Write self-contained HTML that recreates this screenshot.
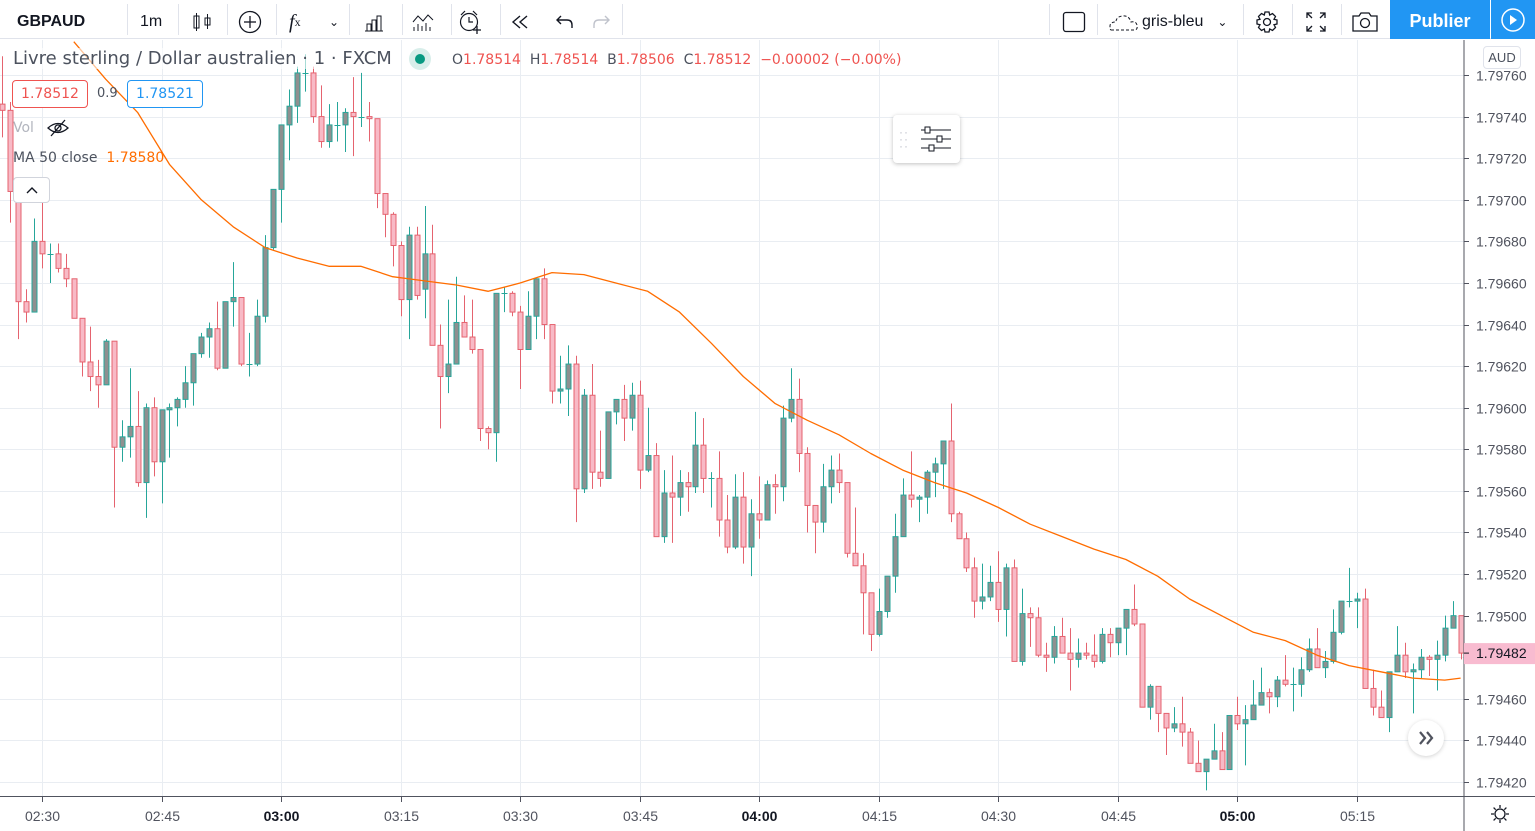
<!DOCTYPE html>
<html><head><meta charset="utf-8">
<style>
*{margin:0;padding:0;box-sizing:border-box}
body{width:1535px;height:831px;overflow:hidden;background:#fff;font-family:"Liberation Sans",sans-serif;position:relative;color:#131722}
.tb{position:absolute;top:0;left:0;width:1535px;height:39px;border-bottom:1px solid #e0e3eb;background:#fff}
.sep{position:absolute;top:4px;width:1px;height:31px;background:#e0e3eb}
.ti{position:absolute;top:3px;height:38px;display:flex;align-items:center;justify-content:center;font-size:16px;color:#131722}
.dv{font-family:"DejaVu Sans","Liberation Sans",sans-serif}
</style></head><body>
<div class="tb">
  <div class="ti" style="left:17px;font-size:16px;font-weight:bold">GBPAUD</div>
  <div class="sep" style="left:127px"></div>
  <div class="ti" style="left:140px;font-size:16px">1m</div>
  <div class="sep" style="left:178px"></div>
  <div class="ti" style="left:190px;width:24px"><svg width="22" height="22"><rect x="3" y="5" width="5" height="12" fill="none" stroke="#131722"/><line x1="5.5" y1="2" x2="5.5" y2="20" stroke="#131722"/><rect x="14" y="7" width="5" height="7" fill="none" stroke="#131722"/><line x1="16.5" y1="3" x2="16.5" y2="18" stroke="#131722"/></svg></div>
  <div class="sep" style="left:227px"></div>
  <div class="ti" style="left:238px;width:24px"><svg width="24" height="24"><circle cx="12" cy="12" r="10.5" fill="none" stroke="#131722" stroke-width="1.3"/><line x1="12" y1="6" x2="12" y2="18" stroke="#131722" stroke-width="1.3"/><line x1="6" y1="12" x2="18" y2="12" stroke="#131722" stroke-width="1.3"/></svg></div>
  <div class="sep" style="left:276px"></div>
  <div class="ti" style="left:289px;font-style:italic;font-family:'Liberation Serif',serif;font-size:20px">f<span style="font-size:12px;font-style:normal">x</span></div>
  <div class="ti" style="left:329px;font-size:12px">⌄</div>
  <div class="sep" style="left:349px"></div>
  <div class="ti" style="left:362px;width:24px"><svg width="22" height="20"><path d="M2 19H20M4 19V12H8V19M9 19V8H13V19M14 19V4H18V19" fill="none" stroke="#131722"/></svg></div>
  <div class="sep" style="left:402px"></div>
  <div class="ti" style="left:410px;width:26px"><svg width="24" height="20"><path d="M2 10L7 4L12 9L17 3L22 8" fill="none" stroke="#131722"/><path d="M3 19V15M7 19V12M11 19V14M15 19V11M19 19V15" stroke="#131722"/></svg></div>
  <div class="sep" style="left:451px"></div>
  <div class="ti" style="left:457px;width:26px"><svg width="26" height="26"><circle cx="12" cy="13" r="8.5" fill="none" stroke="#131722" stroke-width="1.2"/><path d="M12 8V13H16M4 6L8 2M20 6L16 2" fill="none" stroke="#131722" stroke-width="1.2"/><path d="M20 17V25M16 21H24" stroke="#131722" stroke-width="1.3"/></svg></div>
  <div class="sep" style="left:500px"></div>
  <div class="ti" style="left:509px;width:22px"><svg width="20" height="16"><path d="M10 2L3 8L10 14M17 2L10 8L17 14" fill="none" stroke="#131722" stroke-width="1.4"/></svg></div>
  <div class="ti" style="left:555px;width:20px"><svg width="20" height="16"><path d="M6 2L2 6L6 10M2 6H12Q17 6 17 11V14" fill="none" stroke="#131722" stroke-width="1.4"/></svg></div>
  <div class="ti" style="left:591px;width:20px"><svg width="20" height="16"><path d="M14 2L18 6L14 10M18 6H8Q3 6 3 11V14" fill="none" stroke="#c0c3cc" stroke-width="1.4"/></svg></div>
  <div class="sep" style="left:622px"></div>
  <div class="sep" style="left:1049px"></div>
  <div class="ti" style="left:1062px;width:24px"><svg width="24" height="22"><rect x="1.5" y="1.5" width="21" height="19" rx="2.5" fill="none" stroke="#131722" stroke-width="1.3"/></svg></div>
  <div class="sep" style="left:1097px"></div>
  <div class="ti" style="left:1107px;font-size:16px"><svg width="32" height="20" style="margin-right:3px"><path d="M4 18H27Q31 18 30 13Q29 9 24 10Q22 3 15 4Q9 5 9 10Q3 10 3 14Q3 18 4 18" fill="none" stroke="#131722" stroke-dasharray="3 2"/></svg>gris-bleu<span style="margin-left:14px;font-size:12px">⌄</span></div>
  <div class="sep" style="left:1243px"></div>
  <div class="ti" style="left:1255px;width:24px"><svg width="24" height="24"><circle cx="12" cy="12" r="3.5" fill="none" stroke="#131722" stroke-width="1.3"/><path d="M10 2H14L14.7 5L17.5 3.5L20.5 6.5L19 9.3L22 10V14L19 14.7L20.5 17.5L17.5 20.5L14.7 19L14 22H10L9.3 19L6.5 20.5L3.5 17.5L5 14.7L2 14V10L5 9.3L3.5 6.5L6.5 3.5L9.3 5Z" fill="none" stroke="#131722" stroke-width="1.3"/></svg></div>
  <div class="sep" style="left:1292px"></div>
  <div class="ti" style="left:1304px;width:24px"><svg width="22" height="22"><path d="M2 7V2H7M15 2H20V7M20 15V20H15M7 20H2V15M2 2L7 7M20 2L15 7M20 20L15 15M2 20L7 15" fill="none" stroke="#131722" stroke-width="1.3"/></svg></div>
  <div class="sep" style="left:1341px"></div>
  <div class="ti" style="left:1351px;width:28px"><svg width="28" height="22"><path d="M2 5H8L10 2H18L20 5H26V20H2Z" fill="none" stroke="#131722" stroke-width="1.3"/><circle cx="14" cy="12" r="4.5" fill="none" stroke="#131722" stroke-width="1.3"/></svg></div>
  <div class="ti" style="left:1390px;top:0;width:100px;background:#2196f3;color:#fff;font-size:18px;font-weight:bold;height:39px;padding-top:3px">Publier</div>
  <div class="ti" style="left:1491px;top:0;width:44px;background:#2196f3;height:39px"><svg width="26" height="26"><circle cx="13" cy="13" r="11" fill="none" stroke="#fff" stroke-width="1.5"/><path d="M10 8L17 13L10 18Z" fill="#fff"/></svg></div>
</div>

<svg id="chart" width="1535" height="831" style="position:absolute;left:0;top:0">
  <defs><clipPath id="pane"><rect x="0" y="40" width="1464" height="756"/></clipPath></defs>
  <g id="grid"></g>
  <g id="series" clip-path="url(#pane)"></g>
  <line x1="1464" y1="40" x2="1464" y2="831" stroke="#50535e" stroke-width="1"/>
  <line x1="0" y1="796.5" x2="1535" y2="796.5" stroke="#50535e" stroke-width="1"/>
  <g id="yaxis"></g>
  <g id="xaxis"></g>
</svg>

<div class="dv" style="position:absolute;left:13px;top:48px;font-size:18px;color:#4c525e;background:rgba(255,255,255,.6);white-space:nowrap">Livre sterling / Dollar australien · 1 · FXCM</div>
<div style="position:absolute;left:409px;top:48px;width:22px;height:22px;border-radius:11px;background:#d8eeea"><div style="position:absolute;left:6px;top:6px;width:10px;height:10px;border-radius:5px;background:#089981"></div></div>
<div class="dv" style="position:absolute;left:452px;top:52px;font-size:14px;color:#4c525e;white-space:nowrap">O<span style="color:#ef5350">1.78514</span>&nbsp; H<span style="color:#ef5350">1.78514</span>&nbsp; B<span style="color:#ef5350">1.78506</span>&nbsp; C<span style="color:#ef5350">1.78512</span>&nbsp; <span style="color:#ef5350">−0.00002 (−0.00%)</span></div>
<div class="dv" style="position:absolute;left:12px;top:80px;width:76px;height:28px;border:1px solid #ef5350;border-radius:4px;color:#ef5350;font-size:14px;text-align:center;line-height:26px;background:#fff">1.78512</div>
<div class="dv" style="position:absolute;left:97px;top:86px;font-size:13px;color:#4c525e">0.9</div>
<div class="dv" style="position:absolute;left:127px;top:80px;width:76px;height:28px;border:1px solid #2196f3;border-radius:4px;color:#2196f3;font-size:14px;text-align:center;line-height:26px;background:#fff">1.78521</div>
<div class="dv" style="position:absolute;left:13px;top:120px;font-size:14px;color:#b2b5be">Vol</div>
<svg style="position:absolute;left:47px;top:119px" width="22" height="18"><path d="M1 9Q11 0 21 9Q11 18 1 9Z" fill="none" stroke="#131722" stroke-width="1.3"/><circle cx="11" cy="9" r="3" fill="none" stroke="#131722" stroke-width="1.3"/><line x1="4" y1="17" x2="18" y2="1" stroke="#131722" stroke-width="1.3"/></svg>
<div class="dv" style="position:absolute;left:13px;top:150px;font-size:14px;color:#4c525e;white-space:nowrap">MA 50 close &nbsp;<span style="color:#ff6d00">1.78580</span></div>
<div style="position:absolute;left:13px;top:177px;width:37px;height:26px;border:1px solid #d1d4dc;border-radius:4px;background:#fff"><svg width="35" height="24"><path d="M13 15L18 10L23 15" fill="none" stroke="#131722" stroke-width="1.4"/></svg></div>
<div style="position:absolute;left:893px;top:115px;width:67px;height:48px;background:#fff;border-radius:4px;box-shadow:0 1px 4px rgba(0,0,0,.25)">
  <div style="position:absolute;left:6px;top:14px;color:#c0c3cc;font-size:12px;line-height:7px;letter-spacing:1px">··<br>··<br>··</div>
  <svg style="position:absolute;left:26px;top:9px" width="34" height="30"><path d="M2 6H32M2 15H32M2 24H32" stroke="#131722"/><rect x="6" y="3" width="5" height="6" fill="#fff" stroke="#131722"/><rect x="18" y="12" width="5" height="6" fill="#fff" stroke="#131722"/><rect x="10" y="21" width="5" height="6" fill="#fff" stroke="#131722"/></svg>
</div>
<div style="position:absolute;left:1483px;top:46px;width:38px;height:23px;border:1px solid #e0e3eb;border-radius:4px;background:#fff;font-size:13px;color:#4c525e;text-align:center;line-height:21px">AUD</div>
<div style="position:absolute;left:1408px;top:720px;width:36px;height:36px;border-radius:18px;background:#fff;box-shadow:0 1px 4px rgba(0,0,0,.18)"><svg width="36" height="36"><path d="M12 12L17 18L12 24M19 12L24 18L19 24" fill="none" stroke="#50535e" stroke-width="2.2"/></svg></div>
<svg style="position:absolute;left:1490px;top:804px" width="20" height="20"><circle cx="10" cy="10" r="5" fill="none" stroke="#131722" stroke-width="1.3"/><path d="M10 1V4M10 16V19M1 10H4M16 10H19M3.6 3.6L5.7 5.7M14.3 14.3L16.4 16.4M3.6 16.4L5.7 14.3M14.3 5.7L16.4 3.6" stroke="#131722" stroke-width="1.3"/></svg>

<script>
const startTime = "02:25";
const opens  = [1.79746,1.79743,1.79704,1.79651,1.79646,1.79680,1.79674,1.79674,1.79667,1.79662,1.79643,1.79622,1.79615,1.79611,1.79632,1.79581,1.79586,1.79591,1.79564,1.79600,1.79574,1.79599,1.79600,1.79604,1.79612,1.79626,1.79634,1.79638,1.79619,1.79651,1.79653,1.79621,1.79621,1.79644,1.79677,1.79705,1.79736,1.79745,1.79761,1.79761,1.79740,1.79728,1.79736,1.79736,1.79742,1.79740,1.79740,1.79739,1.79703,1.79693,1.79678,1.79652,1.79683,1.79657,1.79674,1.79630,1.79615,1.79621,1.79641,1.79634,1.79628,1.79590,1.79588,1.79655,1.79655,1.79646,1.79628,1.79644,1.79662,1.79640,1.79608,1.79609,1.79621,1.79561,1.79606,1.79569,1.79566,1.79598,1.79604,1.79595,1.79606,1.79570,1.79577,1.79538,1.79559,1.79557,1.79564,1.79562,1.79582,1.79566,1.79566,1.79546,1.79533,1.79557,1.79533,1.79549,1.79546,1.79563,1.79562,1.79595,1.79604,1.79578,1.79553,1.79545,1.79562,1.79570,1.79564,1.79530,1.79524,1.79511,1.79491,1.79502,1.79519,1.79538,1.79558,1.79556,1.79557,1.79569,1.79573,1.79584,1.79549,1.79537,1.79523,1.79507,1.79509,1.79516,1.79503,1.79523,1.79478,1.79501,1.79499,1.79481,1.79480,1.79490,1.79482,1.79479,1.79482,1.79481,1.79478,1.79491,1.79487,1.79494,1.79503,1.79496,1.79456,1.79466,1.79453,1.79446,1.79448,1.79444,1.79429,1.79425,1.79431,1.79435,1.79426,1.79452,1.79448,1.79450,1.79457,1.79463,1.79461,1.79469,1.79467,1.79467,1.79474,1.79484,1.79475,1.79478,1.79492,1.79507,1.79507,1.79508,1.79465,1.79456,1.79451,1.79473,1.79481,1.79473,1.79474,1.79480,1.79479,1.79481,1.79494,1.79500];
const highs  = [1.79769,1.79747,1.79709,1.79657,1.79691,1.79702,1.79679,1.79679,1.79674,1.79662,1.79643,1.79639,1.79623,1.79633,1.79632,1.79594,1.79619,1.79608,1.79602,1.79605,1.79599,1.79602,1.79605,1.79620,1.79626,1.79636,1.79641,1.79651,1.79651,1.79670,1.79653,1.79636,1.79652,1.79683,1.79705,1.79736,1.79753,1.79764,1.79770,1.79764,1.79755,1.79746,1.79747,1.79744,1.79759,1.79761,1.79747,1.79739,1.79703,1.79694,1.79680,1.79687,1.79687,1.79697,1.79688,1.79640,1.79652,1.79663,1.79654,1.79652,1.79628,1.79591,1.79655,1.79658,1.79656,1.79649,1.79656,1.79662,1.79667,1.79640,1.79625,1.79630,1.79625,1.79609,1.79621,1.79589,1.79598,1.79604,1.79611,1.79612,1.79613,1.79600,1.79583,1.79570,1.79577,1.79570,1.79569,1.79598,1.79595,1.79569,1.79579,1.79558,1.79568,1.79569,1.79556,1.79567,1.79565,1.79568,1.79601,1.79619,1.79614,1.79581,1.79553,1.79573,1.79577,1.79578,1.79564,1.79552,1.79530,1.79511,1.79513,1.79519,1.79549,1.79566,1.79579,1.79558,1.79570,1.79576,1.79584,1.79602,1.79550,1.79540,1.79528,1.79525,1.79524,1.79531,1.79525,1.79527,1.79513,1.79504,1.79504,1.79487,1.79495,1.79499,1.79494,1.79489,1.79487,1.79491,1.79494,1.79494,1.79494,1.79503,1.79515,1.79496,1.79467,1.79466,1.79453,1.79456,1.79461,1.79446,1.79440,1.79431,1.79448,1.79444,1.79452,1.79461,1.79457,1.79469,1.79475,1.79465,1.79471,1.79481,1.79475,1.79480,1.79489,1.79494,1.79483,1.79503,1.79507,1.79523,1.79511,1.79513,1.79474,1.79464,1.79473,1.79495,1.79487,1.79477,1.79484,1.79481,1.79488,1.79500,1.79507,1.79500];
const lows   = [1.79730,1.79689,1.79633,1.79641,1.79646,1.79667,1.79660,1.79665,1.79658,1.79643,1.79615,1.79608,1.79600,1.79611,1.79552,1.79574,1.79576,1.79562,1.79547,1.79567,1.79554,1.79576,1.79591,1.79600,1.79601,1.79624,1.79624,1.79618,1.79619,1.79639,1.79620,1.79615,1.79620,1.79641,1.79676,1.79689,1.79719,1.79737,1.79752,1.79737,1.79725,1.79725,1.79728,1.79723,1.79721,1.79735,1.79728,1.79696,1.79682,1.79668,1.79644,1.79633,1.79652,1.79643,1.79630,1.79590,1.79607,1.79621,1.79634,1.79626,1.79584,1.79580,1.79574,1.79646,1.79644,1.79609,1.79628,1.79633,1.79633,1.79602,1.79602,1.79596,1.79545,1.79559,1.79561,1.79562,1.79566,1.79592,1.79584,1.79589,1.79561,1.79569,1.79538,1.79535,1.79535,1.79548,1.79550,1.79559,1.79559,1.79552,1.79538,1.79530,1.79532,1.79525,1.79519,1.79537,1.79546,1.79549,1.79555,1.79593,1.79569,1.79540,1.79530,1.79540,1.79554,1.79559,1.79528,1.79524,1.79491,1.79483,1.79490,1.79499,1.79511,1.79538,1.79552,1.79545,1.79549,1.79557,1.79561,1.79545,1.79537,1.79521,1.79499,1.79503,1.79507,1.79497,1.79490,1.79478,1.79476,1.79485,1.79480,1.79473,1.79477,1.79482,1.79464,1.79475,1.79479,1.79475,1.79477,1.79480,1.79481,1.79481,1.79495,1.79456,1.79450,1.79444,1.79433,1.79444,1.79437,1.79429,1.79425,1.79416,1.79431,1.79426,1.79426,1.79445,1.79428,1.79450,1.79457,1.79453,1.79456,1.79466,1.79454,1.79461,1.79473,1.79475,1.79470,1.79477,1.79491,1.79504,1.79494,1.79465,1.79452,1.79451,1.79444,1.79473,1.79470,1.79453,1.79470,1.79471,1.79464,1.79478,1.79494,1.79479];
const closes = [1.79743,1.79704,1.79651,1.79646,1.79680,1.79674,1.79674,1.79667,1.79662,1.79643,1.79622,1.79615,1.79611,1.79632,1.79581,1.79586,1.79591,1.79564,1.79600,1.79574,1.79599,1.79600,1.79604,1.79612,1.79626,1.79634,1.79638,1.79619,1.79651,1.79653,1.79621,1.79621,1.79644,1.79677,1.79705,1.79736,1.79745,1.79761,1.79761,1.79740,1.79728,1.79736,1.79736,1.79742,1.79740,1.79740,1.79739,1.79703,1.79693,1.79678,1.79652,1.79683,1.79654,1.79674,1.79630,1.79615,1.79621,1.79641,1.79634,1.79628,1.79590,1.79588,1.79655,1.79655,1.79646,1.79628,1.79644,1.79662,1.79640,1.79608,1.79609,1.79621,1.79561,1.79606,1.79569,1.79566,1.79598,1.79604,1.79595,1.79606,1.79570,1.79577,1.79538,1.79559,1.79557,1.79564,1.79562,1.79582,1.79566,1.79566,1.79546,1.79533,1.79557,1.79533,1.79549,1.79546,1.79563,1.79562,1.79595,1.79604,1.79578,1.79553,1.79545,1.79562,1.79570,1.79564,1.79530,1.79524,1.79511,1.79491,1.79502,1.79519,1.79538,1.79558,1.79556,1.79557,1.79569,1.79573,1.79584,1.79549,1.79537,1.79523,1.79507,1.79509,1.79516,1.79503,1.79523,1.79478,1.79501,1.79499,1.79481,1.79480,1.79490,1.79482,1.79479,1.79482,1.79481,1.79478,1.79491,1.79487,1.79494,1.79503,1.79496,1.79456,1.79466,1.79453,1.79446,1.79448,1.79444,1.79429,1.79425,1.79431,1.79435,1.79426,1.79452,1.79448,1.79450,1.79457,1.79463,1.79461,1.79469,1.79467,1.79467,1.79474,1.79484,1.79475,1.79478,1.79492,1.79507,1.79507,1.79508,1.79465,1.79456,1.79451,1.79473,1.79481,1.79473,1.79474,1.79480,1.79479,1.79481,1.79494,1.79500,1.79482];
const maIndex = [9,13,17,21,25,29,33,37,41,45,49,53,57,61,65,69,73,77,81,85,89,93,97,101,105,109,113,117,121,125,129,133,137,141,145,149,153,157,161,165,169,173,177,181,183];
const maValues = [1.79776,1.79758,1.79742,1.79717,1.79700,1.79687,1.79677,1.79672,1.79668,1.79668,1.79663,1.79661,1.79659,1.79656,1.79660,1.79665,1.79664,1.79660,1.79656,1.79646,1.79631,1.79615,1.79602,1.79594,1.79587,1.79578,1.79570,1.79564,1.79559,1.79552,1.79544,1.79538,1.79532,1.79527,1.79519,1.79508,1.79500,1.79492,1.79488,1.79481,1.79476,1.79473,1.79470,1.79469,1.79470];
const priceTicks = [1.79760,1.79740,1.79720,1.79700,1.79680,1.79660,1.79640,1.79620,1.79600,1.79580,1.79560,1.79540,1.79520,1.79500,1.79480,1.79460,1.79440,1.79420];
const timeTicks = ["02:30","02:45","03:00","03:15","03:30","03:45","04:00","04:15","04:30","04:45","05:00","05:15"];
const boldTicks = ["03:00","04:00","05:00"];
const lastPrice = 1.79482;

const NS = "http://www.w3.org/2000/svg";
const PX_PER_BAR = 7.97, X0 = 2.1, Y_REF = 1.79760, Y_REF_PX = 75, PX_PER_UNIT = 41.59/0.0002;
function xOf(i){ return X0 + i*PX_PER_BAR; }
function yOf(p){ return Y_REF_PX + (Y_REF - p)*PX_PER_UNIT; }
function toMin(t){ const [h,m]=t.split(":").map(Number); return h*60+m; }
function idxOfTime(t){ return toMin(t) - toMin(startTime); }
function mk(tag, attrs, parent){ const e=document.createElementNS(NS,tag); for(const k in attrs) e.setAttribute(k,attrs[k]); parent.appendChild(e); return e; }

const grid = document.getElementById("grid"), series = document.getElementById("series");
const yaxis = document.getElementById("yaxis"), xaxis = document.getElementById("xaxis");

priceTicks.forEach(p=>{
  const y = Math.round(yOf(p))+0.5;
  const gl = mk("line",{x1:0,x2:1464,y1:y,y2:y,stroke:"#e9edf2","stroke-width":1},grid);
  
  
  mk("line",{x1:1464,x2:1469,y1:y,y2:y,stroke:"#50535e"},yaxis);
  const t = mk("text",{x:1476,y:y+5,"font-size":14,fill:"#50535e","font-family":"Liberation Sans, sans-serif"},yaxis);
  t.textContent = p.toFixed(5);
  
  
});
timeTicks.forEach(t=>{
  const x = Math.round(xOf(idxOfTime(t)))+0.5;
  const gl = mk("line",{x1:x,x2:x,y1:40,y2:796,stroke:"#e9edf2","stroke-width":1},grid);
  
  
  mk("line",{x1:x,x2:x,y1:797,y2:802,stroke:"#50535e"},xaxis);
  const tx = mk("text",{x:x,y:821,"font-size":14,fill:boldTicks.includes(t)?"#131722":"#50535e","font-weight":boldTicks.includes(t)?"bold":"normal","text-anchor":"middle","font-family":"Liberation Sans, sans-serif"},xaxis);
  tx.textContent = t;
  
  
});

closes.forEach((c,i)=>{
  const o=opens[i], h=highs[i], l=lows[i];
  const bull = c >= o;
  const stroke = bull ? "#26a69a" : "#e5636f";
  const fill = bull ? "#8f9090" : "#f8bac6";
  const x = Math.round(xOf(i))+0.5;
  const g = mk("g",{},series);
  
  
  mk("line",{x1:x,x2:x,y1:yOf(h),y2:yOf(l),stroke:stroke,"stroke-width":1},g);
  const top = yOf(Math.max(o,c)), bot = yOf(Math.min(o,c));
  if (bot-top < 1.5) {
    mk("line",{x1:x-3,x2:x+3,y1:Math.round(top)+0.5,y2:Math.round(top)+0.5,stroke:stroke,"stroke-width":bot-top<0.5?1:2},g);
  } else {
    mk("rect",{x:x-2.5,y:top,width:5,height:bot-top,fill:fill,stroke:stroke,"stroke-width":1},g);
  }
});

const pts = maValues.map((v,k)=>xOf(maIndex[k]).toFixed(1)+","+yOf(v).toFixed(1)).join(" ");
const ma = mk("polyline",{points:pts,fill:"none",stroke:"#ff6d00","stroke-width":1.3,"stroke-linejoin":"round"},series);



const ly = yOf(lastPrice);
const lbl = mk("rect",{x:1464,y:ly-10,width:71,height:21,fill:"#f8bbd0"},yaxis);


mk("line",{x1:1464,x2:1469,y1:ly,y2:ly,stroke:"#131722"},yaxis);
const lt = mk("text",{x:1476,y:ly+5,"font-size":14,fill:"#131722","font-family":"Liberation Sans, sans-serif"},yaxis);
lt.textContent = lastPrice.toFixed(5);


</script>
</body></html>
